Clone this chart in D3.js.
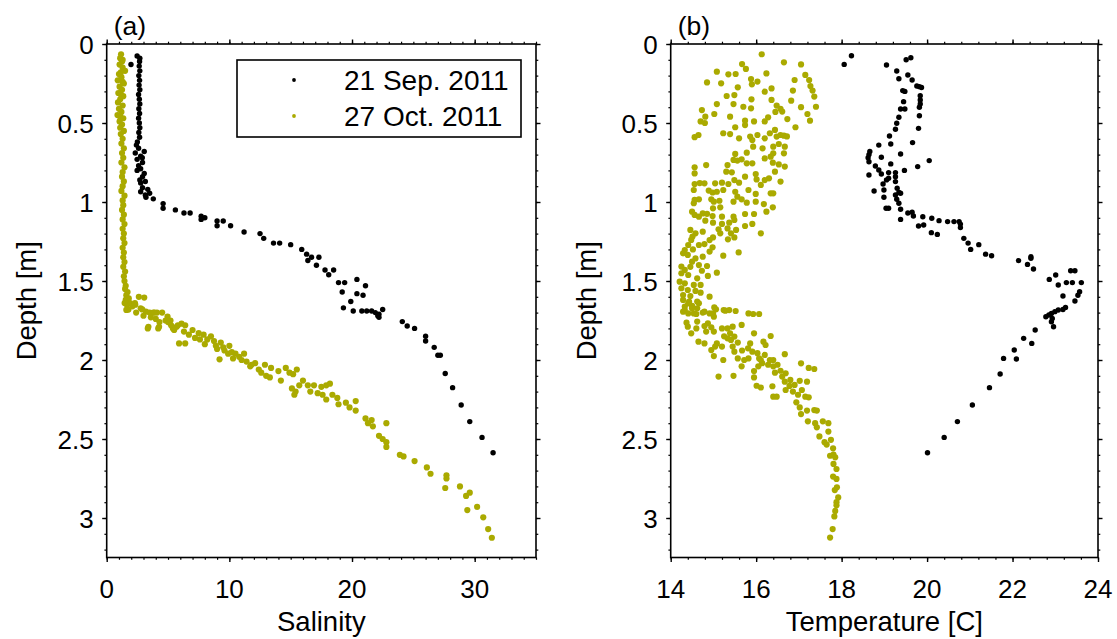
<!DOCTYPE html>
<html><head><meta charset="utf-8">
<script src="https://cdn.jsdelivr.net/npm/d3@7"></script>
<style>body{margin:0;background:#fff} text{font-family:"Liberation Sans",Arial,Helvetica,sans-serif;fill:#000}</style>
</head><body><svg id="c" width="1117" height="639"></svg>
<script>
// [depth (m), salinity]
const sepSalinity = [
[0.076,2.48],[0.13,1.98],[0.11,2.68],[0.09,2.7],[0.14,2.65],[0.17,2.7],[0.2,2.62],[0.23,2.68],[0.26,2.64],[0.29,2.7],[0.32,2.6],[0.35,2.66],[0.38,2.7],[0.41,2.62],[0.44,2.68],[0.47,2.6],[0.50,2.66],[0.53,2.7],[0.56,2.62],[0.59,2.68],
[0.62,2.5],[0.64,2.42],[0.66,2.6],[0.68,3.06],[0.69,2.33],[0.71,2.77],[0.72,2.9],[0.73,2.48],[0.75,2.92],[0.77,2.6],[0.79,2.77],[0.80,2.48],[0.82,3.06],[0.84,2.92],[0.86,2.7],[0.87,3.15],[0.88,2.77],[0.91,2.92],[0.92,3.35],[0.935,2.77],[0.945,3.5],[0.956,3.15],
[0.97,3.2],[0.98,3.8],[1.01,4.6],[1.04,4.6],[1.05,5.6],[1.07,6.3],[1.07,6.8],[1.09,7.7],[1.11,7.7],[1.10,8.0],[1.12,9.0],[1.15,9.0],[1.12,9.5],[1.15,10.1],[1.19,11.2],[1.20,12.5],[1.23,12.8],[1.26,13.6],[1.26,14.1],[1.27,15.0],[1.30,15.9],[1.33,16.3],[1.35,16.7],[1.37,16.4],[1.35,17.3],[1.40,17.1],[1.43,17.8],[1.43,18.5],[1.46,18.1],[1.51,18.9],[1.51,19.4],[1.49,20.4],[1.57,19.2],[1.53,21.1],[1.58,20.4],[1.59,20.9],[1.63,19.9],[1.67,19.3],[1.69,20.1],[1.69,20.8],[1.69,21.2],[1.69,21.6],[1.70,21.9],[1.71,22.2],[1.68,22.5],[1.72,22.1],[1.73,22.2],
[1.757,24.1],[1.785,24.5],[1.80,25.1],[1.85,26.0],[1.88,26.0],[1.92,26.7],[1.97,27.0],[1.97,27.2],[2.085,27.6],[2.175,28.2],[2.285,28.9],[2.39,29.6],[2.49,30.6],[2.587,31.5]
];
const octSalinity = [
[0.065,1.17],[0.09,1.1],[0.10,1.3],[0.11,1.25],[0.13,1.05],[0.15,1.3],[0.17,1.5],[0.18,1.15],[0.19,1.0],[0.21,1.2],[0.23,0.9],[0.24,1.3],[0.25,1.4],[0.27,1.05],[0.29,1.25],[0.31,0.95],[0.32,1.15],[0.33,1.35],[0.35,1.1],[0.37,0.92],[0.39,1.3],[0.41,1.0],[0.43,1.2],[0.45,0.88],[0.46,1.1],[0.47,1.35],[0.49,1.05],[0.51,1.25],[0.53,1.1],[0.55,1.4],[0.57,1.15],[0.60,1.3],[0.63,1.2],[0.66,1.4],[0.69,1.25],[0.72,1.35],[0.75,1.2],[0.78,1.45],[0.81,1.3],[0.84,1.25],[0.87,1.4],[0.90,1.3],[0.93,1.2],[0.96,1.45],[0.99,1.3],[1.02,1.35],[1.05,1.25],[1.08,1.4],[1.11,1.3],[1.14,1.45],[1.17,1.3],[1.20,1.4],[1.23,1.35],[1.26,1.45],[1.29,1.3],[1.32,1.4],[1.35,1.35],[1.38,1.45],[1.41,1.35],[1.44,1.5],[1.47,1.4],[1.50,1.45],[1.53,1.55],[1.55,1.5],[1.57,1.7],[1.59,1.6],[1.61,1.8],[1.62,1.55],[1.64,1.9],[1.65,1.65],[1.66,2.1],
[1.683,1.6],[1.60,2.62],[1.605,3.06],[1.65,2.33],[1.673,2.77],[1.694,3.2],[1.70,4.52],[1.726,4.96],[1.68,1.77],[1.79,3.4],[1.79,4.27],[1.76,4.3],[1.75,5.2],[1.80,5.4],[1.78,5.8],[1.70,3.8],[1.70,4.1],
[1.64,1.46],[1.68,1.7],[1.64,2.3],[1.70,2.4],[1.68,2.9],[1.70,3.5],[1.70,3.9],[1.80,3.35],[1.80,4.2],[1.75,4.8],[1.78,5.25],[1.81,5.5],[1.895,5.9],[1.895,6.4],[1.77,6.1],[1.78,6.4],[1.81,7.0],[1.84,6.7],[1.83,7.5],[1.84,7.9],[1.87,7.6],[1.85,8.5],[1.88,8.75],[1.91,8.9],[1.89,9.3],[1.996,9.2],[1.94,9.6],[1.91,10.0],[1.96,9.9],[1.99,10.3],[1.96,10.5],[1.96,11.2],[2.01,11.4],[2.04,11.7],[2.02,12.1],[2.08,12.6],[2.03,12.9],[2.05,13.4],[2.11,13.3],[2.07,14.0],[2.13,14.2],[2.05,14.6],[2.08,14.9],[2.09,15.2],[2.06,15.5],[2.18,15.1],[2.22,15.3],[2.20,15.4],[2.16,15.7],[2.13,16.0],[2.16,16.4],[2.16,16.9],[2.20,16.6],[2.21,17.2],[2.17,17.5],[2.16,17.9],[2.15,18.2],[2.25,17.9],[2.22,17.6],[2.22,18.4],[2.24,18.8],[2.28,18.9],[2.27,19.5],[2.26,20.3],[2.30,19.8],[2.32,20.3],[2.37,21.1],[2.40,21.3],[2.42,21.7],[2.38,21.6],[2.40,22.8],[2.48,22.2],[2.50,22.5],[2.52,22.8],[2.55,22.8],[2.60,23.9],[2.61,24.2],[2.64,25.1],[2.68,26.1],[2.72,26.4],[2.73,27.7],[2.75,27.7],[2.81,27.6],[2.80,28.8],[2.86,29.3],[2.84,29.6],[2.95,29.4],[2.93,30.2],[2.996,30.7],[3.07,31.1],[3.125,31.4],
[1.72,3.0],[1.73,3.6],[1.74,4.0],[1.76,5.0],[1.79,5.7],[1.82,6.3],[1.86,7.2],[1.87,8.2],[1.90,8.0],[1.92,9.5],[1.93,9.0],[1.95,10.2],[1.98,10.8],[2.00,11.0],[2.03,11.8],[2.06,12.4],[2.10,13.0]
];
// [depth (m), temperature (C)]
const sepTemperature = [
[0.074,18.23],[0.129,18.06],[0.133,19.05],[0.087,19.62],[0.10,19.51],[0.171,19.29],[0.22,19.34],[0.196,19.55],[0.228,19.65],[0.266,19.76],[0.27,19.82],[0.275,19.87],[0.295,19.43],[0.30,19.48],[0.327,19.84],[0.354,19.84],[0.38,19.84],[0.40,19.82],[0.365,19.45],[0.411,19.38],[0.411,19.48],[0.454,19.82],[0.464,19.34],[0.502,19.29],[0.534,19.80],[0.54,19.26],[0.582,19.12],[0.633,19.15],[0.624,19.66],[0.64,18.87],[0.68,18.66],[0.70,18.64],[0.72,18.62],[0.745,18.64],[0.696,19.38],[0.717,18.93],[0.759,19.15],[0.738,20.05],[0.776,19.78],[0.772,18.79],[0.797,18.87],[0.829,18.64],[0.823,18.93],[0.814,19.10],[0.814,19.26],[0.80,19.47],[0.85,19.10],[0.84,19.26],[0.871,19.26],[0.886,18.97],[0.86,19.05],[0.93,18.76],[0.924,18.99],[0.913,19.30],[0.94,19.34],[0.956,19.26],[0.945,19.38],[0.97,18.99],[0.983,19.29],[1.008,19.34],[1.04,19.04],[1.04,19.10],[1.046,19.38],[1.11,19.38],[1.07,19.55],[1.065,19.65],[1.089,19.68],[1.093,19.90],[1.152,19.80],[1.146,19.92],[1.103,20.11],[1.118,20.28],[1.124,20.48],[1.124,20.63],[1.124,20.75],[1.162,20.78],[1.14,20.78],[1.194,20.10],[1.205,20.24],[1.23,20.86],[1.26,20.96],[1.30,21.02],[1.27,21.21],[1.33,21.37],[1.34,21.51],[1.371,22.14],[1.395,22.35],[1.346,22.43],[1.356,22.43],[1.424,22.49],[1.49,22.86],[1.462,23.01],[1.525,23.07],[1.435,23.36],[1.435,23.46],[1.51,23.26],[1.51,23.40],[1.51,23.61],[1.595,23.18],[1.568,23.57],[1.59,23.53],[1.627,23.46],[1.667,23.24],[1.68,23.18],[1.684,23.07],[1.694,22.99],[1.705,22.91],[1.715,22.85],[1.726,22.78],[1.737,22.93],[1.758,22.91],[1.79,22.96],[1.81,22.53],[1.863,22.26],[1.895,22.45],[1.937,22.04],[1.994,22.09],[1.99,21.79],[2.089,21.71],[2.175,21.46],[2.285,21.06],[2.39,20.71],[2.49,20.40],[2.587,20.01]
];
const octTemperature = [
[0.065,16.13],[0.116,16.65],[0.129,17.05],[0.127,15.67],[0.158,15.76],[0.186,16.24],[0.175,15.08],[0.192,15.35],[0.19,15.52],[0.243,14.85],[0.249,15.18],[0.222,15.88],[0.238,16.03],[0.255,15.90],[0.281,16.36],[0.302,16.20],[0.274,15.57],[0.228,16.90],[0.196,17.15],[0.228,17.24],[0.266,17.27],[0.333,17.36],[0.295,17.32],[0.397,17.40],[0.295,16.86],[0.359,16.82],[0.40,17.05],[0.443,17.20],[0.485,17.26],[0.527,16.92],[0.475,16.73],[0.428,16.61],[0.39,16.48],[0.354,16.36],[0.41,16.57],[0.43,16.45],[0.464,16.28],[0.49,16.20],[0.323,15.49],[0.329,15.31],[0.38,15.08],[0.38,15.47],[0.397,15.70],[0.407,15.88],[0.35,15.89],[0.418,14.73],[0.443,15.02],[0.46,14.81],[0.46,15.39],[0.49,14.70],[0.50,14.80],[0.527,15.51],[0.513,15.74],[0.485,15.74],[0.49,15.95],[0.565,15.23],[0.57,15.39],[0.597,15.60],[0.59,14.56],[0.576,14.65],[0.586,15.86],[0.608,15.91],[0.576,16.03],[0.597,16.20],[0.565,16.32],[0.544,16.44],[0.586,16.48],[0.576,16.57],[0.58,16.65],[0.585,16.72],[0.633,16.53],[0.65,16.40],[0.65,16.67],[0.692,16.65],[0.692,16.40],[0.713,16.34],[0.66,16.15],[0.65,15.93],[0.688,15.78],[0.696,15.51],[0.738,15.56],[0.73,15.66],[0.755,15.78],[0.755,15.91],[0.724,16.20],[0.751,16.39],[0.762,16.53],[0.776,16.67],[0.808,16.44],[0.85,16.30],[0.861,16.20],[0.871,16.57],[0.945,16.40],[0.945,16.34],[0.892,16.11],[0.823,15.99],[0.857,16.01],[0.84,15.74],[0.734,15.47],[0.766,15.33],[0.808,15.30],[0.812,15.43],[0.861,15.49],[0.878,15.60],[0.886,15.35],[0.878,15.20],[0.882,15.04],[0.766,14.83],[0.78,14.56],[0.819,14.56],[0.882,14.79],[0.886,14.56],[0.88,14.68],[0.924,14.54],[0.928,14.89],[0.94,14.98],[0.935,15.08],[0.924,15.23],[0.935,15.51],[0.924,15.82],[0.949,15.99],[0.966,15.56],[0.983,15.66],[1.004,15.78],[0.998,15.99],[1.013,16.18],[1.034,16.39],[0.987,14.56],[0.983,14.66],[1.008,14.54],[0.983,14.95],[0.998,15.01],[0.992,15.14],[0.998,15.47],[1.034,15.16],[1.04,14.99],[1.061,14.50],[1.082,14.56],[1.093,14.66],[1.072,14.75],[1.075,14.85],[1.118,14.81],[1.089,14.98],[1.093,15.20],[1.093,15.47],[1.114,15.49],[1.131,15.37],[1.139,15.20],[1.131,14.99],[1.076,15.74],[1.076,15.95],[1.061,16.24],[1.139,15.91],[1.152,15.74],[1.198,16.11],[1.177,15.53],[1.198,15.41],[1.224,15.49],[1.236,15.34],[1.198,15.16],[1.224,14.99],[1.241,14.91],[1.173,15.12],[1.167,15.33],[1.188,14.75],[1.198,14.58],[1.177,14.46],[1.219,14.51],[1.24,14.48],[1.272,14.41],[1.304,14.33],[1.325,14.29],[1.335,14.40],[1.30,14.52],[1.272,14.66],[1.266,14.79],[1.287,14.98],[1.319,15.59],[1.34,15.23],[1.314,14.91],[1.346,14.75],[1.357,14.58],[1.378,14.50],[1.409,14.25],[1.43,14.33],[1.41,14.46],[1.399,14.66],[1.405,14.85],[1.435,14.73],[1.447,15.08],[1.468,14.87],[1.451,14.25],[1.462,14.41],[1.483,14.62],[1.504,14.21],[1.515,14.33],[1.525,14.54],[1.525,14.70],[1.546,14.25],[1.557,14.40],[1.563,14.58],[1.589,14.29],[1.595,14.46],[1.574,14.70],[1.599,14.91],[1.62,14.29],[1.63,14.43],[1.63,14.62],[1.662,14.33],[1.658,14.50],[1.673,14.62],[1.694,14.29],[1.705,14.41],[1.705,14.54],[1.70,14.75],[1.667,15.02],[1.679,15.06],[1.684,15.24],[1.684,15.37],[1.69,15.52],[1.705,15.82],[1.709,15.93],[1.709,16.07],[1.694,14.79],[1.705,14.91],[1.726,15.01],
[1.641,14.41],[1.641,14.66],[1.673,14.50],[1.684,14.33],[1.709,14.60],[1.705,14.99],[1.688,15.28],[1.764,14.37],[1.789,14.40],[1.757,14.62],[1.80,14.60],[1.785,14.79],[1.768,14.87],[1.793,14.95],[1.82,15.01],[1.82,14.83],[1.831,14.48],[1.884,14.65],[1.895,14.79],[1.80,15.20],[1.80,15.33],[1.789,15.45],[1.778,15.66],[1.831,15.39],[1.852,15.49],[1.873,15.41],[1.89,15.57],[1.915,15.45],[1.863,15.33],[1.85,15.25],[1.895,15.08],[1.915,15.04],[1.915,15.20],[1.937,14.95],[1.975,15.01],[2.0,15.23],[1.947,15.49],[1.94,15.67],[1.926,15.81],[1.895,15.86],[1.831,15.95],[1.947,15.91],[2.0,15.72],[1.99,15.82],[1.957,16.03],[1.99,16.07],[2.02,16.14],[1.968,16.20],[2.0,16.32],[2.0,16.40],[1.848,16.34],[1.884,16.17],[1.905,16.22],[2.0,16.11],[2.03,16.28],[2.04,16.40],[2.03,16.50],[2.08,16.44],[2.068,16.57],[1.963,16.67],[2.105,16.61],[2.084,16.69],[2.137,16.67],[2.126,16.80],[2.158,16.90],[2.164,16.78],[2.19,16.69],[2.2,16.86],[2.22,16.98],[2.021,17.05],[2.132,17.02],[2.137,17.19],[2.05,17.23],[2.057,17.36],[2.19,17.07],[2.232,17.15],[2.236,17.23],[2.268,16.94],[2.3,17.02],[2.342,17.05],[2.32,17.19],[2.317,17.36],[2.32,17.42],[2.388,17.21],[2.40,17.38],[2.426,17.42],[2.388,17.56],[2.40,17.69],[2.453,17.69],[2.505,17.75],[2.484,17.48],[2.52,17.60],[2.535,17.65],[2.559,17.80],[2.599,17.81],[2.606,17.73],[2.616,17.85],[2.658,17.81],[2.69,17.88],[2.738,17.80],[2.753,17.88],[2.806,17.89],[2.823,17.84],[2.87,17.92],[2.90,17.88],[2.92,17.88],[2.955,17.85],[2.99,17.83],[3.07,17.79],[3.124,17.73],[2.105,15.12],[2.10,15.47],[2.11,15.95],[2.163,16.01],[2.174,16.11],[2.166,16.38],[2.232,16.40],[2.232,16.48],[2.07,15.95],[2.04,16.05],[2.04,15.66],[1.99,15.57]
];
const seriesNames = ["21 Sep. 2011", "27 Oct. 2011"];
const panelLabels = ["(a)", "(b)"];
const xLabels = ["Salinity", "Temperature [C]"];
const yLabel = "Depth [m]";
const salinityTicks = [0, 10, 20, 30];
const temperatureTicks = [14, 16, 18, 20, 22, 24];
const depthTicks = [0, 0.5, 1, 1.5, 2, 2.5, 3];

const svg = d3.select("#c");
const colors = ["#000000", "#aaaa00"];
const radii = [2.7, 3.1];
const FS = 26, LFS = 27.5;
const y = d3.scaleLinear().domain([0, 3.25]).range([44, 557.5]);

function panel(cfg) {
  const x = d3.scaleLinear().domain(cfg.domain).range([cfg.left, cfg.right]);
  const g = svg.append("g");
  cfg.data.forEach((arr, i) => {
    g.append("g").selectAll("circle").data(arr).join("circle")
      .attr("cx", d => x(d[1])).attr("cy", d => y(d[0]))
      .attr("r", radii[i]).attr("fill", colors[i]);
  });
  const minorX = d3.range(cfg.domain[0], cfg.domain[1] + 1e-9, cfg.minorStep);
  const minorY = d3.range(0, 3.25 + 1e-9, 0.1);
  const [y0, y1] = y.range();
  const axes = [
    [d3.axisBottom(x), `translate(0,${y1})`, minorX, cfg.ticks],
    [d3.axisTop(x), `translate(0,${y0})`, minorX, cfg.ticks],
    [d3.axisLeft(y), `translate(${cfg.left},0)`, minorY, depthTicks],
    [d3.axisRight(y), `translate(${cfg.right},0)`, minorY, depthTicks]
  ];
  axes.forEach(([ax, tr, minor, major]) => {
    const gm = g.append("g").attr("transform", tr)
      .call(ax.tickValues(minor).tickSize(2.3).tickFormat(""));
    gm.select(".domain").remove();
    gm.selectAll("line").attr("stroke-width", 1.2);
    const gM = g.append("g").attr("transform", tr)
      .call(ax.tickValues(major).tickSize(4.5).tickFormat(""));
    gM.select(".domain").remove();
    gM.selectAll("line").attr("stroke-width", 1.4);
  });
  g.append("rect").attr("x", cfg.left).attr("y", y0)
    .attr("width", cfg.right - cfg.left).attr("height", y1 - y0)
    .attr("fill", "none").attr("stroke", "#000").attr("stroke-width", 1.6);
  g.append("g").selectAll("text").data(cfg.ticks).join("text")
    .attr("x", d => x(d)).attr("y", 598).attr("text-anchor", "middle")
    .attr("font-size", FS).text(d => d);
  g.append("g").selectAll("text").data(depthTicks).join("text")
    .attr("x", cfg.left - 13).attr("y", d => y(d) + 9.5).attr("text-anchor", "end")
    .attr("font-size", FS).text(d => d);
  g.append("text").attr("x", (cfg.left + cfg.right) / 2).attr("y", 631)
    .attr("text-anchor", "middle").attr("font-size", LFS).text(cfg.xLabel);
  g.append("text").attr("transform", `translate(${cfg.yLabelX},${(y0 + y1) / 2}) rotate(-90)`)
    .attr("text-anchor", "middle").attr("font-size", LFS).text(yLabel);
  g.append("text").attr("x", cfg.left + 7).attr("y", 35)
    .attr("font-size", 26.5).text(cfg.label);
  return x;
}

panel({domain: [0, 35], left: 106.7, right: 536, ticks: salinityTicks, minorStep: 1,
  data: [sepSalinity, octSalinity], xLabel: xLabels[0], label: panelLabels[0], yLabelX: 36});
panel({domain: [14, 24], left: 670.7, right: 1098, ticks: temperatureTicks, minorStep: 0.4,
  data: [sepTemperature, octTemperature], xLabel: xLabels[1], label: panelLabels[1], yLabelX: 596});

// legend
const lg = svg.append("g");
lg.append("rect").attr("x", 237).attr("y", 60).attr("width", 284).attr("height", 77)
  .attr("fill", "#fff").attr("stroke", "#000").attr("stroke-width", 1.6);
seriesNames.forEach((n, i) => {
  const yy = 80 + i * 36;
  lg.append("circle").attr("cx", 294).attr("cy", yy).attr("r", 1.9).attr("fill", colors[i]);
  lg.append("text").attr("x", 344).attr("y", yy + 10).attr("font-size", 28).text(n);
});
</script></body></html>
